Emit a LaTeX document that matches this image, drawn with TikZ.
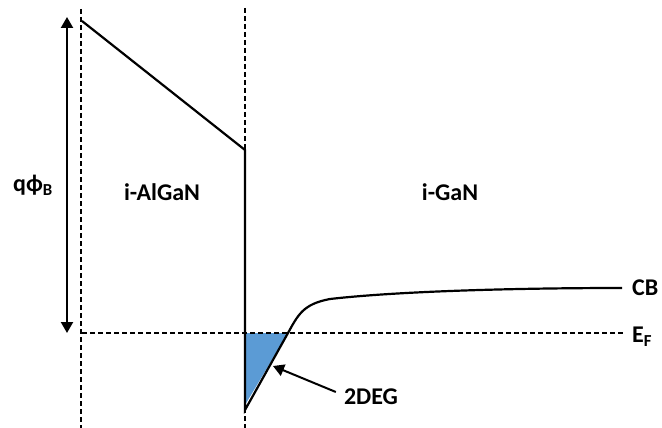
\documentclass[tikz,border=0pt]{standalone}
\usepackage{fontspec}
\setmainfont{Carlito}
\usetikzlibrary{arrows.meta}
\definecolor{degblue}{RGB}{91,155,213}
\begin{document}
\begin{tikzpicture}[x=1pt,y=-1pt,
  solidline/.style={line width=2.2pt},
  dashline/.style={line width=1.7pt,dash pattern=on 5pt off 3pt},
  lbl/.style={font=\bfseries\fontsize{24}{26}\selectfont,inner sep=0pt},
  tip/.style={-{Triangle[length=11pt,width=12pt]}}]
\useasboundingbox (0,0) rectangle (662,428);
% coordinates
\coordinate (LT) at (81,9);
\coordinate (LB) at (81,428);
\coordinate (RT) at (245,8);
\coordinate (RB) at (245,428);
\coordinate (FL) at (82,333);
\coordinate (FR) at (623,333);
\coordinate (A0) at (82,21);
\coordinate (A1) at (245,150);
\coordinate (A2) at (245,410);
\coordinate (C1) at (288,333);
\coordinate (C2) at (330,299);
\coordinate (C3) at (622,288);
\coordinate (PT) at (67,17);
\coordinate (PB) at (67,333);
\coordinate (F0) at (245,333);
\coordinate (F1) at (245,405);
% 2DEG fill
\fill[degblue] (F0) -- (C1) -- (F1) -- cycle;
% dashed lines
\draw[dashline] (LT) -- (LB);
\draw[dashline] (RT) -- (RB);
\draw[dashline] (FL) -- (FR);
% band
\draw[solidline,line join=miter] (A0) -- (A1) -- (A2) -- (C1)
  .. controls (298,315) and (303,304) .. (C2)
  .. controls (400,291) and (520,288) .. (C3);
% barrier arrow
\draw[line width=2.2pt,{Triangle[length=11pt,width=12pt]}-{Triangle[length=11pt,width=12pt]}] (PT) -- (PB);
% labels
\node[lbl] (qphi) at (33,185) {qϕ\textsubscript{B}};
\node[lbl] (algan) at (162,192) {i-AlGaN};
\node[lbl] (gan) at (450,192) {i-GaN};
\node[lbl,anchor=west] (cb) at (632,288) {CB};
\node[lbl,anchor=west] (ef) at (632,337) {E\textsubscript{F}};
\node[lbl] (deg) at (371,397) {2DEG};
\coordinate (D1) at (273,366);
\draw[line width=2pt,tip] (deg.west) ++(-8,-5) -- (D1);
\end{tikzpicture}
\end{document}
